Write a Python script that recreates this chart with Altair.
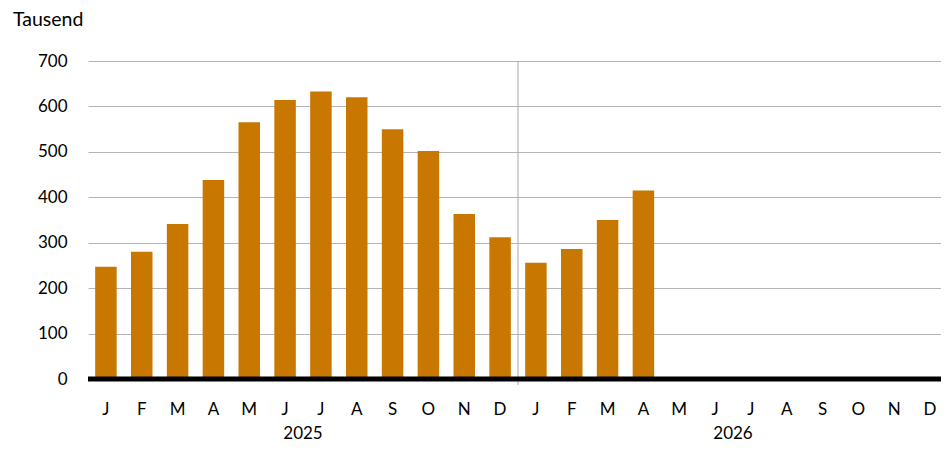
import altair as alt
import pandas as pd

months = ["J", "F", "M", "A", "M", "J", "J", "A", "S", "O", "N", "D"]
years = ["2025", "2026"]
values_2025 = [247, 280, 341, 438, 565, 614, 633, 620, 550, 502, 363, 312]
values_2026 = [256, 286, 350, 415, None, None, None, None, None, None, None, None]
y_ticks = [0, 100, 200, 300, 400, 500, 600, 700]
unit_label = "Tausend"

rows = []
for year, vals in zip(years, [values_2025, values_2026]):
    for i, (m, v) in enumerate(zip(months, vals)):
        rows.append({"key": f"{year}{i:02d}{m}", "value": v, "year": year})
df = pd.DataFrame(rows)
domain = list(df["key"])

W, H = 860, 318
FONT = "Lato"
BAR = "#C87800"

xscale = alt.Scale(domain=domain, paddingInner=0.4, paddingOuter=0.2)
step = W / 24.0
gap = (step - 0.6 * step) / 2

x_axis = alt.Axis(
    title=None, labelExpr="substring(datum.value, 6)", labelAngle=0,
    domain=False, ticks=False, labelPadding=22, labelFontSize=17,
    labelColor="#000", labelFont=FONT, grid=False,
)
y_axis = alt.Axis(
    values=y_ticks, title=None,
    domain=False, ticks=False, labelPadding=21, labelFontSize=17,
    labelFont=FONT, labelColor="#000", grid=True, gridColor="#b4b4b4",
    gridWidth=1,
)

bars = alt.Chart(df).mark_bar(color=BAR).encode(
    x=alt.X("key:N", scale=xscale, axis=x_axis, sort=domain),
    y=alt.Y("value:Q", scale=alt.Scale(domain=[0, 700], nice=False), axis=y_axis),
)

divider_df = pd.DataFrame({"key": [f"2025{11:02d}D"], "top": [700]})
divider = alt.Chart(divider_df).mark_rule(color="#a8a8a8", strokeWidth=1, xOffset=gap).encode(
    x=alt.X("key:N", scale=xscale, sort=domain, bandPosition=1),
    y=alt.Y("top:Q"),
    y2=alt.value(H + 6),
)

zero_df = pd.DataFrame({"zero": [0]})
zero = alt.Chart(zero_df).mark_rule(color="#000", strokeWidth=5).encode(
    y=alt.Y("zero:Q"),
)

year_df = pd.DataFrame({"key": ["202505J", "202605J"], "label": years})
year_text = alt.Chart(year_df).mark_text(
    font=FONT, fontSize=17, color="#000", baseline="middle", align="center", dx=gap,
).encode(
    x=alt.X("key:N", scale=xscale, sort=domain, bandPosition=1),
    y=alt.value(373),
    text="label:N",
)

unit_df = pd.DataFrame({"label": [unit_label]})
unit_text = alt.Chart(unit_df).mark_text(
    font=FONT, fontSize=19.5, color="#000", baseline="middle", align="left",
).encode(
    x=alt.value(-75),
    y=alt.value(-41),
    text="label:N",
)

chart = alt.layer(bars, divider, zero, year_text, unit_text).properties(
    width=W, height=H,
    autosize=alt.AutoSizeParams(type="none"),
    padding={"left": 80, "top": 53, "right": -7, "bottom": 63},
).configure_view(stroke=None)

chart.save("out.html", embed_options={"renderer": "svg", "actions": False})
